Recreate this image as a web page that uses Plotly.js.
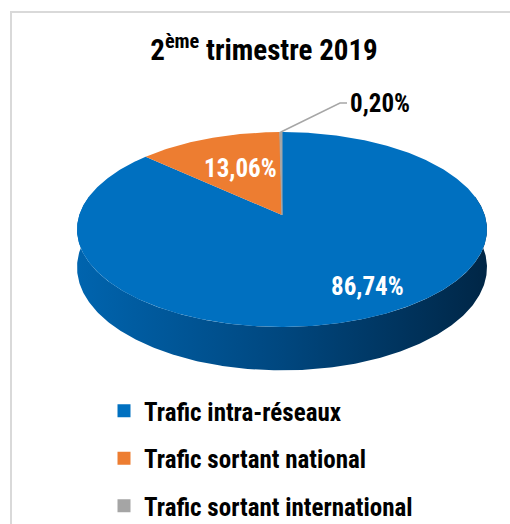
<!DOCTYPE html>
<html>
<head>
<meta charset="utf-8">
<script src="https://cdn.plot.ly/plotly-3.0.1.min.js"></script>
<style>
  html, body { margin: 0; padding: 0; background: #ffffff; }
  #chart { width: 510px; height: 524px; }
</style>
</head>
<body>
<div id="chart"></div>
<script>
document.addEventListener('DOMContentLoaded', () => {
    // Répartition du trafic - 2ème trimestre 2019
    const categories = ['Trafic intra-réseaux', 'Trafic sortant national', 'Trafic sortant international'];
    const shares = [86.74, 13.06, 0.20]; // en %
    const colors = ['#0070c0', '#ed7d31', '#a5a5a5'];
    const shareLabels = shares.map(v => v.toFixed(2).replace('.', ',') + '%');

    const FONT = '"Roboto Condensed", "Open Sans Condensed", "Liberation Sans", Arial, sans-serif';

    // projection d'un disque incliné (perspective légère), en pixels
    const CX = 282, CY = 215, R = 202.7, RY = 95.3, K = 0.1487, DEPTH = 37;
    function proj(phi, r) {
        const u = r * Math.sin(phi), v = r * Math.cos(phi);
        const s = 1 / (1 + K * v);
        return [CX + R * u * s, CY - RY * v * s, s];
    }
    function arc(a0, a1) {
        const n = Math.max(2, Math.ceil(Math.abs(a1 - a0) / 0.01));
        const pts = [];
        for (let i = 0; i <= n; i++) pts.push(proj(a0 + (a1 - a0) * i / n, 1));
        return pts;
    }

    const total = shares.reduce((a, b) => a + b, 0);
    const data = [];

    // flanc du camembert (partie avant)
    const top = arc(Math.PI / 2 - 0.2, 3 * Math.PI / 2 + 0.2);
    const bottom = top.slice().reverse().map(p => [p[0], p[1] + DEPTH * p[2]]);
    const wall = top.concat(bottom);
    data.push({
        x: wall.map(p => p[0]).concat([wall[0][0]]),
        y: wall.map(p => p[1]).concat([wall[0][1]]),
        mode: 'lines', fill: 'toself',
        line: { width: 0 },
        fillgradient: {
            type: 'horizontal',
            colorscale: [[0, '#0064ae'], [0.5, '#00477f'], [1, '#002646']]
        },
        hoverinfo: 'skip', showlegend: false
    });

    // secteurs (face supérieure)
    let cum = 0;
    const mids = [];
    shares.forEach((v, i) => {
        const a0 = cum / total * 2 * Math.PI;
        cum += v;
        const a1 = cum / total * 2 * Math.PI;
        mids.push((a0 + a1) / 2);
        const pts = [[CX, CY]].concat(arc(a0, a1)).concat([[CX, CY]]);
        data.push({
            x: pts.map(p => p[0]), y: pts.map(p => p[1]),
            mode: 'lines', fill: 'toself',
            fillcolor: colors[i],
            line: { width: i === 2 ? 1 : 0, color: colors[i] },
            hoverinfo: 'skip', showlegend: false
        });
    });

    // entrées de légende
    categories.forEach((c, i) => {
        data.push({
            x: [null], y: [null], type: 'scatter', mode: 'markers',
            name: c, legendgroup: 'g' + i,
            marker: { symbol: 'square', size: 13, color: colors[i] }
        });
    });

    const leadStart = proj(mids[2], 1);

    const layout = {
        width: 510, height: 524,
        margin: { l: 0, r: 0, t: 0, b: 0, autoexpand: false },
        paper_bgcolor: '#ffffff', plot_bgcolor: '#ffffff',
        xaxis: { range: [0, 510], visible: false, fixedrange: true },
        yaxis: { range: [524, 0], visible: false, fixedrange: true },
        title: {
            text: '2<sup>ème</sup> trimestre 2019',
            font: { family: FONT, size: 29, color: '#000000', weight: 'bold' },
            x: 264 / 510, y: 1 - 50 / 524, xanchor: 'center', yanchor: 'middle'
        },
        showlegend: true,
        legend: {
            x: 104 / 510, y: 1 - 388 / 524, xanchor: 'left', yanchor: 'top',
            font: { family: FONT, size: 25, color: '#000000', weight: 'bold' },
            tracegroupgap: 12, bgcolor: 'rgba(0,0,0,0)'
        },
        shapes: [
            {
                type: 'rect', xref: 'x', yref: 'y', x0: 11, y0: 12, x1: 520, y1: 540,
                line: { color: '#d9d9d9', width: 2 }, layer: 'below'
            },
            {
                type: 'path', xref: 'x', yref: 'y',
                path: `M${leadStart[0]},${leadStart[1]} L340,103 L347,103`,
                line: { color: '#a6a6a6', width: 1.5 }
            }
        ],
        annotations: [
            { x: 367, y: 286, text: shareLabels[0], showarrow: false, xanchor: 'center', yanchor: 'middle',
              font: { family: FONT, size: 25, color: '#ffffff', weight: 'bold' } },
            { x: 240, y: 168, text: shareLabels[1], showarrow: false, xanchor: 'center', yanchor: 'middle',
              font: { family: FONT, size: 25, color: '#ffffff', weight: 'bold' } },
            { x: 348, y: 103, text: shareLabels[2], showarrow: false, xanchor: 'left', yanchor: 'middle',
              font: { family: FONT, size: 25, color: '#000000', weight: 'bold' } }
        ]
    };

    Plotly.newPlot('chart', data, layout, { displayModeBar: false, staticPlot: true });
});
</script>
</body>
</html>
